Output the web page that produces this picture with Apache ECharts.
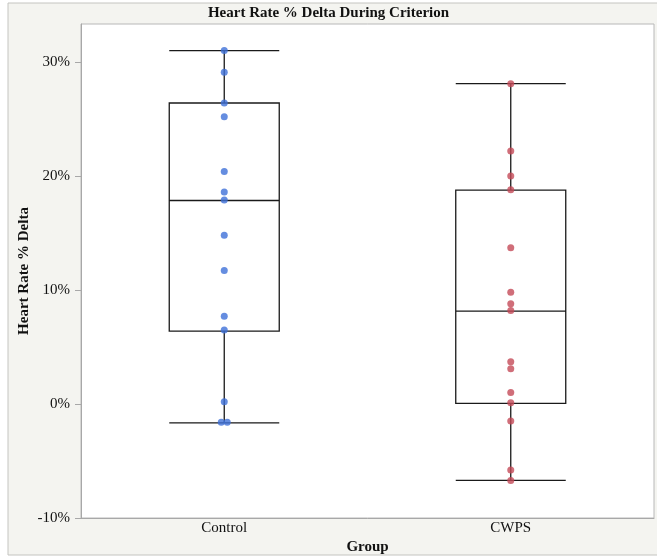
<!DOCTYPE html>
<html>
<head>
<meta charset="utf-8">
<script src="https://cdn.jsdelivr.net/npm/echarts@6/dist/echarts.min.js"></script>
<style>
  html, body { margin: 0; padding: 0; background: #ffffff; }
  #chart { width: 657px; height: 558px; }
</style>
</head>
<body>
<div id="chart"></div>
<script>
// Groups on the x axis
const groups = ['Control', 'CWPS'];

// Box summaries per group: [min whisker, Q1, median, Q3, max whisker] in %
const controlBox = [-1.65, 6.4, 17.85, 26.4, 31.0];
const cwpsBox = [-6.7, 0.05, 8.15, 18.75, 28.1];

// Individual participant values (%)
const controlPoints = [31.0, 29.1, 26.4, 25.2, 20.4, 18.6, 17.9, 14.8, 11.7, 7.7, 6.5, 0.2, -1.6, -1.6];
const cwpsPoints = [28.1, 22.2, 20.0, 18.8, 13.7, 9.8, 8.8, 8.2, 3.7, 3.1, 1.0, 0.1, -1.5, -5.8, -6.7];

// Y axis ticks
const yTicks = [-10, 0, 10, 20, 30];

const serif = '"Liberation Serif", "Times New Roman", serif';

// Spread exact duplicates sideways so both dots stay visible
function jitter(group, values) {
  const seen = {};
  values.forEach(v => { seen[v] = (seen[v] || 0) + 1; });
  const used = {};
  return values.map(v => {
    const n = seen[v];
    const k = used[v] = (used[v] || 0) + 1;
    const dx = n > 1 ? (k - (n + 1) / 2) * 6 : 0;
    return { value: [group, v], symbolOffset: [dx, 0] };
  });
}

const chart = echarts.init(document.getElementById('chart'), null, { renderer: 'canvas' });

chart.setOption({
  backgroundColor: '#ffffff',
  animation: false,
  graphic: [
    {
      type: 'rect', z: -10, silent: true,
      shape: { x: 8, y: 3, width: 660, height: 552 },
      style: { fill: '#f4f4f0', stroke: '#c4c4c0', lineWidth: 1 }
    }
  ],
  title: {
    text: 'Heart Rate % Delta During Criterion',
    left: 'center',
    top: 1,
    textStyle: { fontFamily: serif, fontWeight: 'bold', fontSize: 15, color: '#111' }
  },
  grid: {
    left: 81, right: 3, top: 24, bottom: 40,
    outerBoundsMode: 'none',
    containLabel: false,
    show: true,
    backgroundColor: '#ffffff',
    borderColor: '#b8b8b8',
    borderWidth: 1
  },
  xAxis: {
    type: 'category',
    data: groups,
    name: 'Group',
    nameLocation: 'middle',
    nameGap: 22,
    nameMoveOverlap: false,
    nameTextStyle: { fontFamily: serif, fontWeight: 'bold', fontSize: 15, color: '#111' },
    axisLine: { onZero: false, lineStyle: { color: '#a8a8a8', width: 1 } },
    axisTick: { show: false },
    axisLabel: { fontFamily: serif, fontSize: 15, color: '#111', margin: 3 },
    splitLine: { show: false }
  },
  yAxis: {
    type: 'value',
    min: -10,
    max: 33.33,
    interval: 10,
    name: 'Heart Rate % Delta',
    nameLocation: 'middle',
    nameGap: 49,
    nameMoveOverlap: false,
    nameTextStyle: { fontFamily: serif, fontWeight: 'bold', fontSize: 15, color: '#111' },
    axisLine: { show: true, lineStyle: { color: '#a8a8a8', width: 1 } },
    axisTick: { show: true, length: 6, lineStyle: { color: '#a8a8a8' } },
    axisLabel: {
      fontFamily: serif, fontSize: 15, color: '#111', margin: 11,
      showMaxLabel: false,
      formatter: v => (yTicks.indexOf(v) >= 0 ? v + '%' : '')
    },
    splitLine: { show: false }
  },
  series: [
    {
      type: 'boxplot',
      data: [controlBox, cwpsBox],
      boxWidth: [110, 110],
      itemStyle: { color: 'rgba(255,255,255,0)', borderColor: '#1a1a1a', borderWidth: 1.3 },
      z: 2
    },
    {
      type: 'scatter',
      name: 'Control',
      data: jitter('Control', controlPoints),
      symbol: 'circle',
      symbolSize: 7,
      itemStyle: { color: '#3f70d8' },
      z: 3
    },
    {
      type: 'scatter',
      name: 'CWPS',
      data: jitter('CWPS', cwpsPoints),
      symbol: 'circle',
      symbolSize: 7,
      itemStyle: { color: '#c44a58' },
      z: 3
    }
  ]
});
</script>
</body>
</html>
